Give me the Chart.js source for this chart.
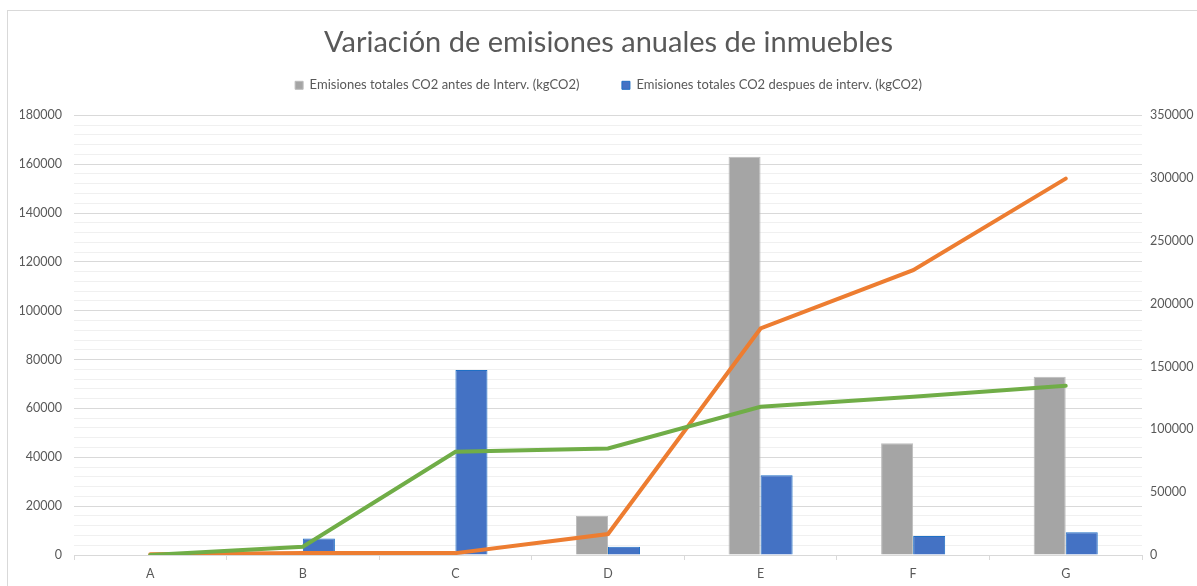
<!DOCTYPE html>
<html>
<head>
<meta charset="utf-8">
<script src="https://cdn.jsdelivr.net/npm/chart.js@4/dist/chart.umd.min.js"></script>
<style>
  html, body { margin: 0; padding: 0; background: #fff; }
  #wrap { position: relative; width: 1197px; height: 586px; }
  #frame {
    position: absolute; left: 7px; top: 10px; right: 0; bottom: 0;
    border-top: 1px solid #d9d9d9; border-left: 1px solid #d9d9d9;
    pointer-events: none;
  }
</style>
</head>
<body>
<div id="wrap">
  <canvas id="emisionesChart" width="1197" height="586"></canvas>
  <div id="frame"></div>
</div>
<script>
// ==================== DATA ====================
const inmuebles = ['A', 'B', 'C', 'D', 'E', 'F', 'G'];
const emisionesAntes = [0, 0, 0, 16000, 163000, 45700, 73000];
const emisionesDespues = [0, 6800, 75700, 3400, 32600, 7800, 9300];
// lines on the secondary axis
const serieNaranja = [500, 1500, 1500, 16700, 180300, 226700, 299600];
const serieVerde = [0, 6600, 82200, 84800, 118000, 126000, 134700];

const ejeIzqMax = 180000, ejeIzqPaso = 20000, ejeIzqMenor = 4000;
const ejeDerMax = 350000, ejeDerPaso = 50000;

const labelAntes = 'Emisiones totales CO2 antes de Interv. (kgCO2)';
const labelDespues = 'Emisiones totales CO2 despues de interv. (kgCO2)';

const textColor = '#595959';
const fontFamily = 'Lato, "Open Sans", sans-serif';

// ==================== CHART ====================
const ctx = document.getElementById('emisionesChart');

new Chart(ctx, {
  type: 'bar',
  data: {
    labels: inmuebles,
    datasets: [
      {
        label: labelAntes,
        data: emisionesAntes,
        backgroundColor: '#A5A5A5',
        borderColor: '#BDBDBD',
        borderWidth: 1,
        yAxisID: 'y',
        order: 2
      },
      {
        label: labelDespues,
        data: emisionesDespues,
        backgroundColor: '#4472C4',
        borderColor: '#1F6FC5',
        borderWidth: 1,
        yAxisID: 'y',
        order: 2
      },
      {
        type: 'line',
        label: 'naranja',
        data: serieNaranja,
        borderColor: '#ED7D31',
        borderWidth: 4,
        pointRadius: 0,
        tension: 0,
        borderCapStyle: 'round',
        yAxisID: 'y2',
        order: 1
      },
      {
        type: 'line',
        label: 'verde',
        data: serieVerde,
        borderColor: '#70AD47',
        borderWidth: 4,
        pointRadius: 0,
        tension: 0,
        borderCapStyle: 'round',
        yAxisID: 'y2',
        order: 0
      }
    ]
  },
  options: {
    responsive: false,
    animation: false,
    layout: { padding: { left: 20 } },
    datasets: {
      bar: { categoryPercentage: 0.42, barPercentage: 1 }
    },
    plugins: {
      title: {
        display: true,
        text: 'Variación de emisiones anuales de inmuebles',
        color: textColor,
        font: { family: fontFamily, size: 29, weight: 'normal' },
        padding: { top: 25.5, bottom: 8.5 }
      },
      legend: {
        position: 'top',
        labels: {
          color: textColor,
          font: { family: fontFamily, size: 13 },
          boxWidth: 8,
          boxHeight: 8,
          padding: 10,
          generateLabels: (chart) => {
            const items = Chart.defaults.plugins.legend.labels.generateLabels(chart)
              .filter(it => it.datasetIndex < 2);
            items[0].text = items[0].text + '\u2003\u2003\u2003\u2005';
            return items;
          }
        }
      },
      tooltip: { enabled: false }
    },
    scales: {
      x: {
        offset: true,
        border: { color: '#d9d9d9' },
        grid: {
          offset: true,
          drawOnChartArea: false,
          tickLength: 5,
          color: '#d9d9d9'
        },
        ticks: {
          color: textColor,
          font: { family: fontFamily, size: 12.5 },
          padding: 6
        },
        afterFit: (axis) => { axis.height = 31; }
      },
      y: {
        position: 'left',
        min: 0,
        max: ejeIzqMax,
        border: { display: false },
        grid: {
          drawTicks: false,
          lineWidth: 1,
          color: (c) => (c.tick && c.tick.value % ejeIzqPaso === 0) ? '#d9d9d9' : '#f0f0f0'
        },
        ticks: {
          stepSize: ejeIzqMenor,
          autoSkip: false,
          padding: 12,
          color: textColor,
          font: { family: fontFamily, size: 12.5 },
          callback: (v) => (v % ejeIzqPaso === 0 ? String(v) : '')
        },
        afterFit: (axis) => { axis.width = 54; }
      },
      y2: {
        position: 'right',
        min: 0,
        max: ejeDerMax,
        border: { display: false },
        grid: { drawOnChartArea: false, drawTicks: false },
        ticks: {
          stepSize: ejeDerPaso,
          padding: 8,
          color: textColor,
          font: { family: fontFamily, size: 12.5 },
          callback: (v) => String(v)
        },
        afterFit: (axis) => { axis.width = 55; }
      }
    }
  },
  plugins: [{
    id: 'legendGap',
    beforeInit(chart) {
      const origFit = chart.legend.fit;
      chart.legend.fit = function () {
        origFit.bind(chart.legend)();
        this.height += 13.5;
      };
    }
  }]
});
</script>
</body>
</html>
